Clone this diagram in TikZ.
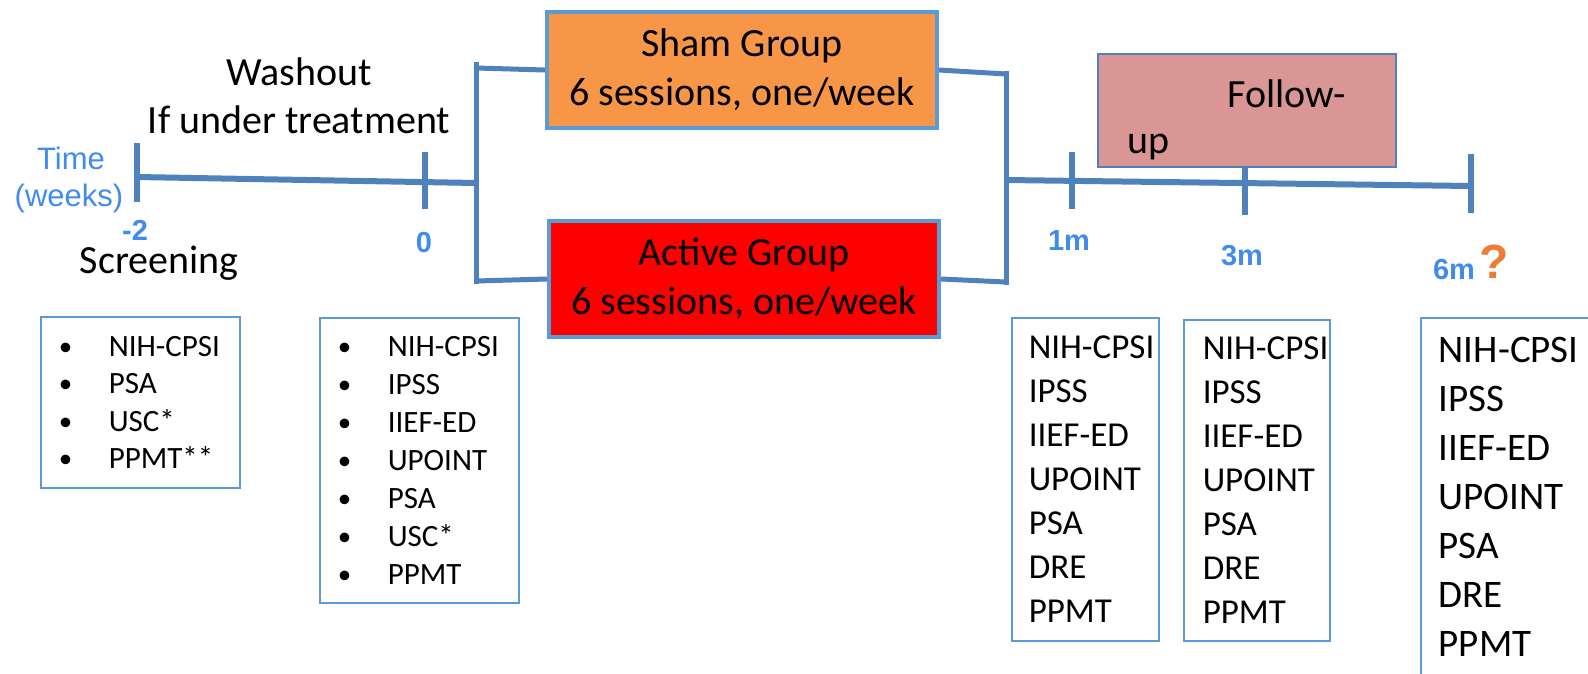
\documentclass[tikz,border=0pt]{standalone}
\usepackage{fontspec}
\setmainfont{Carlito}
\newfontfamily\arialfont{Liberation Sans}
\definecolor{axisblue}{RGB}{79,129,189}
\definecolor{frameblue}{RGB}{91,155,213}
\definecolor{labelblue}{RGB}{66,139,238}
\definecolor{shamfill}{RGB}{247,150,70}
\definecolor{activefill}{RGB}{255,0,0}
\definecolor{followfill}{RGB}{217,150,148}
\definecolor{qorange}{RGB}{237,125,49}
\newcommand{\bul}{\makebox[50pt][l]{\raisebox{1pt}{\fontsize{27}{27}\selectfont\textbullet}}}
\begin{document}
\begin{tikzpicture}[x=1pt,y=-1pt,
  axis/.style={draw=axisblue,line width=6pt},
  bracket/.style={draw=axisblue,line width=5pt},
  groupbox/.style={draw=frameblue,line width=4pt,minimum width=390pt,
    minimum height=116pt,align=center,inner sep=0pt,
    font=\fontsize{40}{49}\selectfont},
  plaintext/.style={inner sep=0pt,font=\fontsize{40}{48}\selectfont},
  timelabel/.style={inner sep=0pt,text=labelblue,
    font=\arialfont\fontsize{31}{36}\selectfont},
  ticklabel/.style={inner sep=0pt,anchor=base,text=labelblue,
    font=\arialfont\bfseries\fontsize{29}{34}\selectfont},
  listbox/.style={draw=frameblue,line width=1.5pt,anchor=north west,
    align=left,inner ysep=0pt}
]
\useasboundingbox (0,0) rectangle (1588,673);
\clip (0,0) rectangle (1588,673);

% treatment arms
\node[groupbox,fill=shamfill] (sham) at (742,70) {Sham Group\\6 sessions, one/week};
\node[groupbox,fill=activefill] (active) at (744,279) {Active Group\\6 sessions, one/week};

% follow-up period
\node[draw=axisblue,line width=1.5pt,fill=followfill,minimum width=298pt,
  minimum height=113pt,inner sep=0pt] (fu) at (1247,110.5) {};
\node[plaintext,anchor=base west] (fuA) at (1227,107) {Follow-};
\node[plaintext,anchor=base west] (fuB) at (1127,153) {up};

% time axis: screening to randomisation
\coordinate (tS) at (137,177);
\coordinate (tR) at (476,183);
\coordinate (kSa) at (137,143); \coordinate (kSb) at (137,202);
\coordinate (kZa) at (425,152); \coordinate (kZb) at (425,209);
\draw[axis] (tS) -- (tR);
\draw[axis] (kSa) -- (kSb);
\draw[axis] (kZa) -- (kZb);

% branching into the two arms
\coordinate (bLa) at (476,62);  \coordinate (bLb) at (476,284);
\coordinate (bLt) at (476,68);  \coordinate (bLm) at (476,281);
\draw[bracket] (bLa) -- (bLb);
\draw[bracket] (bLt) -- (sham.west);
\draw[bracket] (bLm) -- (active.west);

\coordinate (bRa) at (1006,71); \coordinate (bRb) at (1006,285);
\coordinate (bRt) at (1006,74); \coordinate (bRm) at (1006,282);
\draw[bracket] (bRa) -- (bRb);
\draw[bracket] (sham.east) -- (bRt);
\draw[bracket] (active.east) -- (bRm);

% time axis: follow-up
\coordinate (tF) at (1006,180);
\coordinate (tE) at (1471,186);
\coordinate (k1a) at (1072,152); \coordinate (k1b) at (1072,209);
\coordinate (k3b) at (1245,215);
\coordinate (k6a) at (1471,154); \coordinate (k6b) at (1471,213);
\draw[axis] (tF) -- (tE);
\draw[axis] (k1a) -- (k1b);
\draw[axis] (fu.south -| k3b) -- (k3b);
\draw[axis] (k6a) -- (k6b);

% labels
\node[plaintext,anchor=base] (washA) at (299,85) {Washout};
\node[plaintext,anchor=base] (washB) at (299,133) {If under treatment};
\node[plaintext,anchor=base] (scr) at (159,273) {Screening};
\node[timelabel,anchor=base] (timeA) at (71,169) {Time};
\node[timelabel,anchor=base] (timeB) at (69,206) {(weeks)};
\node[ticklabel] (lS) at (135,240) {-2};
\node[ticklabel] (lZ) at (424,252) {0};
\node[ticklabel] (l1) at (1069,250) {1m};
\node[ticklabel] (l3) at (1242,265) {3m};
\node[ticklabel] (l6) at (1454,279) {6m};
\node[inner sep=0pt,anchor=base,text=qorange,
  font=\arialfont\bfseries\fontsize{48}{54}\selectfont] (q) at (1494,278) {?};

% assessment lists
\node[listbox,inner xsep=18pt,text width=163pt,minimum height=171pt,
  font=\fontsize{31}{37.5}\selectfont] (visS) at (40,316)
  {\bul NIH-CPSI\\\bul PSA\\\bul USC*\\\bul PPMT**};
\node[listbox,inner xsep=18pt,text width=163pt,minimum height=285pt,
  font=\fontsize{31}{38}\selectfont] (visZ) at (319,317)
  {\bul NIH-CPSI\\\bul IPSS\\\bul IIEF-ED\\\bul UPOINT\\\bul PSA\\\bul USC*\\\bul PPMT};
\node[listbox,inner xsep=17pt,text width=113pt,minimum height=323pt,
  font=\fontsize{35}{44}\selectfont] (vis1) at (1011,317)
  {\mbox{NIH-CPSI}\\IPSS\\\mbox{IIEF-ED}\\UPOINT\\PSA\\DRE\\PPMT};
\node[listbox,inner xsep=19pt,text width=108pt,minimum height=321pt,
  font=\fontsize{35}{44}\selectfont] (vis3) at (1183,319)
  {\mbox{NIH-CPSI}\\IPSS\\\mbox{IIEF-ED}\\UPOINT\\PSA\\DRE\\PPMT};
\node[listbox,inner xsep=18pt,text width=200pt,minimum height=358pt,
  font=\fontsize{39}{49}\selectfont] (vis6) at (1420,317)
  {\mbox{NIH-CPSI}\\IPSS\\\mbox{IIEF-ED}\\UPOINT\\PSA\\DRE\\PPMT};
\end{tikzpicture}
\end{document}
